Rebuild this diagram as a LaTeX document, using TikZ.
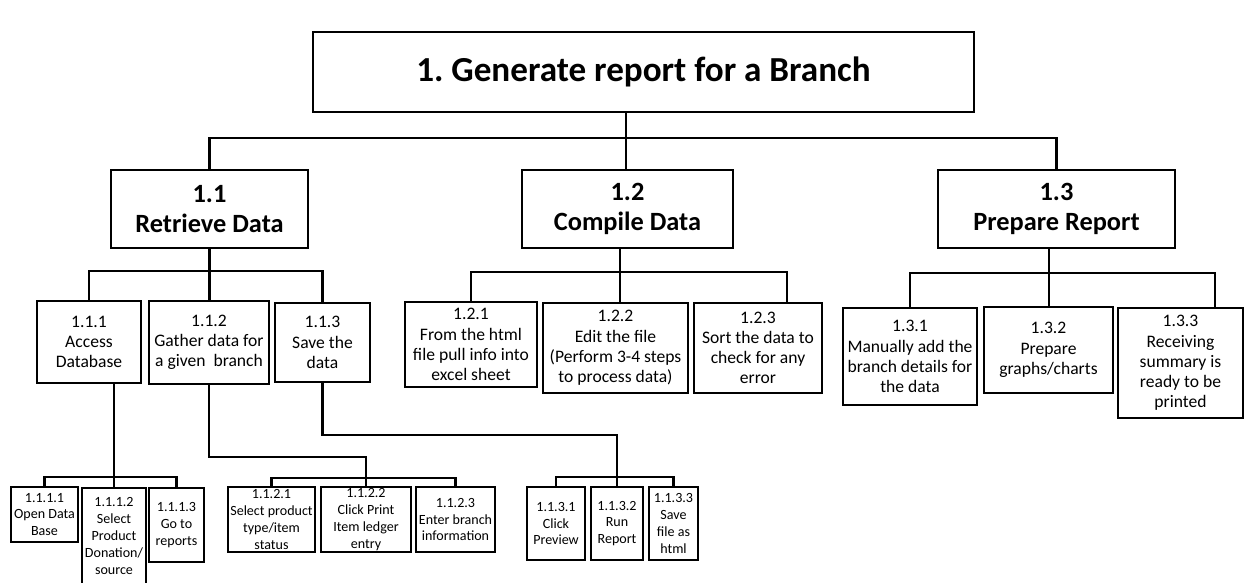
\documentclass[tikz,border=0pt]{standalone}
\usepackage{fontspec}
\setmainfont{Carlito}
\frenchspacing
\newlength{\px}
\setlength{\px}{0.02cm}

\begin{document}
\begin{tikzpicture}[x=0.02cm, y=-0.02cm,
    box/.style={draw, line width=1.5pt, align=center, inner xsep=1pt, inner ysep=0pt},
    sz/.style 2 args={minimum width=#1*\px, minimum height=#2*\px},
    lvlone/.style={box, font=\fontsize{20}{24}\selectfont\bfseries},
    lvltwo/.style={box, font=\fontsize{15}{17}\selectfont\bfseries},
    lvlthree/.style={box, font=\fontsize{10}{11.5}\selectfont},
    lvlfour/.style={box, line width=1.4pt, font=\fontsize{8}{9.6}\selectfont},
    link/.style={line width=1.2pt}]
  \useasboundingbox (0,0) rectangle (1244,582);
  \clip (0,0) rectangle (1244,582);

  \node[lvlone, sz={661}{80}] (gen) at (643.5,72) {1. Generate report for a Branch};

  \node[lvltwo, sz={197}{78}] (retrieve) at (209.5,209) {1.1\\Retrieve Data};
  \node[lvltwo, sz={211}{78}] (compile) at (627.5,209) {1.2\\Compile Data};
  \node[lvltwo, sz={237}{78}] (prepare) at (1056.5,209) {1.3\\Prepare Report};

  \node[lvlthree, sz={104}{82}] (access) at (89,342) {1.1.1\\Access\\Database};
  \node[lvlthree, sz={120}{83}] (gather) at (209,342.5) {1.1.2\\Gather data for\\a given\ \ branch};
  \node[lvlthree, sz={95}{79}] (save) at (322.5,342.5) {1.1.3\\Save the\\data};
  \node[lvlthree, sz={132}{85}] (pull) at (471,344.5) {1.2.1\\From the html\\file pull info into\\excel sheet};
  \node[lvlthree, sz={145}{90}] (edit) at (615.5,348) {1.2.2\\Edit the file\\(Perform 3-4 steps\\to process data)};
  \node[lvlthree, sz={128}{90}] (sort) at (758,348) {1.2.3\\Sort the data to\\check for any\\error};
  \node[lvlthree, sz={134}{97}] (manual) at (910,356.5) {1.3.1\\Manually add the\\branch details for\\the data};
  \node[lvlthree, sz={129}{86}] (graphs) at (1048.5,350) {1.3.2\\Prepare\\graphs/charts};
  \node[lvlthree, sz={125}{110}] (receive) at (1180.5,363) {1.3.3\\Receiving\\summary is\\ready to be\\printed};

  \node[lvlfour, sz={67}{55}] (opendb) at (44.5,514.5) {1.1.1.1\\Open Data\\Base};
  \node[lvlfour, sz={64}{96}] (selprod) at (114,536) {1.1.1.2\\Select\\Product\\Donation/\\source};
  \node[lvlfour, sz={55}{74}] (reports) at (176.5,525) {1.1.1.3\\Go to\\reports};
  \node[lvlfour, sz={87}{65}] (seltype) at (271.5,519.5) {1.1.2.1\\Select product\\type/item\\status};
  \node[lvlfour, sz={90}{65}] (ledger) at (366,519.5) {1.1.2.2\\Click Print\\Item ledger\\entry};
  \node[lvlfour, sz={79}{65}] (enterbr) at (455.5,519.5) {1.1.2.3\\Enter branch\\information};
  \node[lvlfour, sz={58}{73}] (preview) at (556,523.5) {1.1.3.1\\Click\\Preview};
  \node[lvlfour, sz={52}{73}] (runrep) at (617,523.5) {1.1.3.2\\Run\\Report};
  \node[lvlfour, sz={49}{73}] (savehtml) at (673.5,523.5) {1.1.3.3\\Save\\file as\\html};

  \coordinate (j0) at (626,138);
  \draw[link] (gen.south -| j0) -- (j0);
  \draw[link] (retrieve.north) |- (j0) -| (prepare.north);
  \draw[link] (j0) -- (j0 |- compile.north);

  \coordinate (j1) at (retrieve.south |- 0,271);
  \draw[link] (retrieve.south) -- (j1);
  \draw[link] (access.north) |- (j1) -| (save.north);
  \draw[link] (j1) -- (j1 |- gather.north);

  \coordinate (j2) at (620,272);
  \coordinate (s3) at (787,0);
  \draw[link] (j2 |- compile.south) -- (j2);
  \draw[link] (pull.north) |- (j2) -| (s3 |- sort.north);
  \draw[link] (j2) -- (j2 |- edit.north);

  \coordinate (j3) at (1049,273);
  \coordinate (r3) at (1215,0);
  \draw[link] (j3 |- prepare.south) -- (j3);
  \draw[link] (manual.north) |- (j3) -| (r3 |- receive.north);
  \draw[link] (j3) -- (j3 |- graphs.north);

  \coordinate (j11) at (selprod.north |- 0,477);
  \draw[link] (j11 |- access.south) -- (selprod.north);
  \draw[link] (opendb.north) |- (j11) -| (reports.north);

  \coordinate (k12) at (ledger.north |- 0,457);
  \coordinate (j12) at (ledger.north |- 0,478);
  \draw[link] (gather.south) |- (k12) -- (ledger.north);
  \draw[link] (seltype.north) |- (j12) -| (enterbr.north);

  \coordinate (k13) at (runrep.north |- 0,435);
  \coordinate (j13) at (runrep.north |- 0,477);
  \draw[link] (save.south) |- (k13) -- (runrep.north);
  \draw[link] (preview.north) |- (j13) -| (savehtml.north);
\end{tikzpicture}
\end{document}
